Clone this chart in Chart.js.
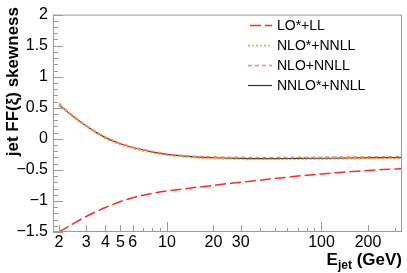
<!DOCTYPE html>
<html>
<head>
<meta charset="utf-8">
<script src="https://cdn.jsdelivr.net/npm/chart.js@4/dist/chart.umd.min.js"></script>
<style>
  html, body { margin: 0; padding: 0; background: #fff; }
  #wrap { width: 407px; height: 273px; position: relative; }
</style>
</head>
<body>
<div id="wrap"><canvas id="myChart" width="407" height="273"></canvas></div>
<script>
// jet energies (GeV)
const energies = [2, 2.5, 3, 3.5, 4, 5, 6, 7, 8, 10, 12, 15, 20, 25, 30, 40, 50, 70, 100, 150, 200, 250, 332];

// skewness for each approximation
const lo_ll = [-1.50, -1.36, -1.25, -1.17, -1.105, -1.01, -0.95, -0.91, -0.88, -0.84, -0.815, -0.785, -0.75, -0.72, -0.70, -0.665, -0.64, -0.60, -0.565, -0.53, -0.51, -0.495, -0.48];
const nlo_star_nnll = [0.54, 0.34, 0.20, 0.09, 0.005, -0.095, -0.155, -0.195, -0.225, -0.265, -0.285, -0.305, -0.32, -0.325, -0.33, -0.333, -0.333, -0.331, -0.328, -0.324, -0.321, -0.319, -0.317];
const nlo_nnll = [0.57, 0.36, 0.22, 0.11, 0.03, -0.07, -0.13, -0.17, -0.20, -0.24, -0.26, -0.28, -0.29, -0.295, -0.298, -0.30, -0.30, -0.298, -0.295, -0.292, -0.29, -0.288, -0.286];
const nnlo_star_nnll = [0.55, 0.35, 0.21, 0.10, 0.02, -0.08, -0.14, -0.18, -0.21, -0.25, -0.27, -0.29, -0.305, -0.31, -0.315, -0.318, -0.318, -0.316, -0.313, -0.309, -0.306, -0.304, -0.302];

const series_labels = ['LO*+LL', 'NLO*+NNLL', 'NLO+NNLL', 'NNLO*+NNLL'];

// axis ticks
const x_tick_labels = [2, 3, 4, 5, 6, 10, 20, 30, 100, 200];
const x_minor_ticks = [2, 3, 4, 5, 6, 7, 8, 9, 10, 20, 30, 40, 50, 60, 70, 80, 90, 100, 200, 300];
const y_min = -1.5, y_max = 2;

const FONT = "'Liberation Sans', Arial, Helvetica, sans-serif";

function to_points(arr) {
    return arr.map((v, i) => ({x: energies[i], y: v}));
}

// frame, inward ticks, axis titles and legend (ROOT style)
const rootStyle = {
    id: 'rootStyle',
    afterDraw(chart) {
        const ctx = chart.ctx;
        const a = chart.chartArea;
        const xs = chart.scales.x, ys = chart.scales.y;
        ctx.save();
        ctx.strokeStyle = '#9a9a9a';
        ctx.lineWidth = 1;
        ctx.strokeRect(a.left + 0.5, a.top + 0.5, a.right - a.left - 1, a.bottom - a.top - 1);

        // y ticks
        ctx.beginPath();
        for (let k = 0; k <= 35; k++) {
            let v = y_min + k * 0.1;
            let py = Math.round(ys.getPixelForValue(v)) + 0.5;
            let major = (k % 5 == 0);
            ctx.moveTo(a.left, py);
            ctx.lineTo(a.left + (major ? 10 : 5), py);
        }
        // x ticks
        x_minor_ticks.forEach(v => {
            let px = Math.round(xs.getPixelForValue(v)) + 0.5;
            let len = 4;
            if (v == 10 || v == 100) len = 10;
            else if (x_tick_labels.includes(v)) len = 7;
            ctx.moveTo(px, a.bottom);
            ctx.lineTo(px, a.bottom - len);
        });
        ctx.stroke();

        // axis titles
        ctx.fillStyle = '#000';
        ctx.textBaseline = 'alphabetic';
        ctx.font = 'bold 17px ' + FONT;
        let t1 = ' (GeV)';
        let w1 = ctx.measureText(t1).width;
        ctx.font = 'bold 12px ' + FONT;
        let wsub = ctx.measureText('jet').width;
        ctx.font = 'bold 17px ' + FONT;
        let wE = ctx.measureText('E').width;
        let xr = 402;
        let base = 265;
        ctx.textAlign = 'left';
        ctx.fillText('E', xr - w1 - wsub - wE, base);
        ctx.fillText(t1, xr - w1, base);
        ctx.font = 'bold 12px ' + FONT;
        ctx.fillText('jet', xr - w1 - wsub, base + 4);

        ctx.save();
        ctx.translate(18, 7);
        ctx.rotate(-Math.PI / 2);
        ctx.font = 'bold 17px ' + FONT;
        ctx.textAlign = 'right';
        ctx.fillText('jet FF(\u03BE) skewness', 0, 0);
        ctx.restore();

        // legend
        ctx.font = '14px ' + FONT;
        ctx.textAlign = 'left';
        ctx.textBaseline = 'middle';
        chart.data.datasets.forEach((ds, i) => {
            let ly = 25.5 + i * 20;
            ctx.save();
            ctx.strokeStyle = ds.borderColor;
            ctx.lineWidth = ds.borderWidth;
            ctx.setLineDash(ds.borderDash || []);
            ctx.lineDashOffset = (i == 0) ? -2 : 0;
            ctx.beginPath();
            ctx.moveTo(248, ly);
            ctx.lineTo(272, ly);
            ctx.stroke();
            ctx.restore();
            ctx.fillStyle = '#000';
            ctx.fillText(ds.label, 277, ly + 1);
        });
        ctx.restore();
    }
};

let ctx = document.getElementById('myChart').getContext('2d');
let wykres = new Chart(ctx, {
    type: 'line',
    data: {
        datasets: [
            {
                label: series_labels[0],
                data: to_points(lo_ll),
                borderColor: '#ff2a2a',
                borderWidth: 1.5,
                borderDash: [11, 4]
            },
            {
                label: series_labels[1],
                data: to_points(nlo_star_nnll),
                borderColor: '#ffa31a',
                borderWidth: 1.5,
                borderDash: [2, 2]
            },
            {
                label: series_labels[2],
                data: to_points(nlo_nnll),
                borderColor: '#ff8080',
                borderWidth: 1.5,
                borderDash: [4, 3]
            },
            {
                label: series_labels[3],
                data: to_points(nnlo_star_nnll),
                borderColor: '#333333',
                borderWidth: 1.2
            }
        ]
    },
    options: {
        responsive: false,
        animation: false,
        layout: { padding: { top: 6, right: 5, left: 0, bottom: 0 } },
        elements: {
            point: { radius: 0 },
            line: { cubicInterpolationMode: 'monotone', fill: false }
        },
        plugins: {
            legend: { display: false },
            tooltip: { enabled: false }
        },
        scales: {
            x: {
                type: 'logarithmic',
                min: 1.83,
                max: 332,
                afterFit: s => { s.height = 41; },
                afterBuildTicks: s => { s.ticks = x_tick_labels.map(v => ({value: v})); },
                ticks: {
                    autoSkip: false,
                    maxRotation: 0,
                    padding: 1,
                    color: '#000',
                    font: { size: 16, family: FONT },
                    callback: v => String(v)
                },
                grid: { display: false, drawTicks: false },
                border: { display: false }
            },
            y: {
                min: y_min,
                max: y_max,
                afterFit: s => { s.width = 53; },
                ticks: {
                    stepSize: 0.5,
                    padding: 5,
                    color: '#000',
                    font: { size: 16, family: FONT },
                    callback: v => v < 0 ? '\u2212' + Math.abs(v) : String(v)
                },
                grid: { display: false, drawTicks: false },
                border: { display: false }
            }
        }
    },
    plugins: [rootStyle]
});
</script>
</body>
</html>
